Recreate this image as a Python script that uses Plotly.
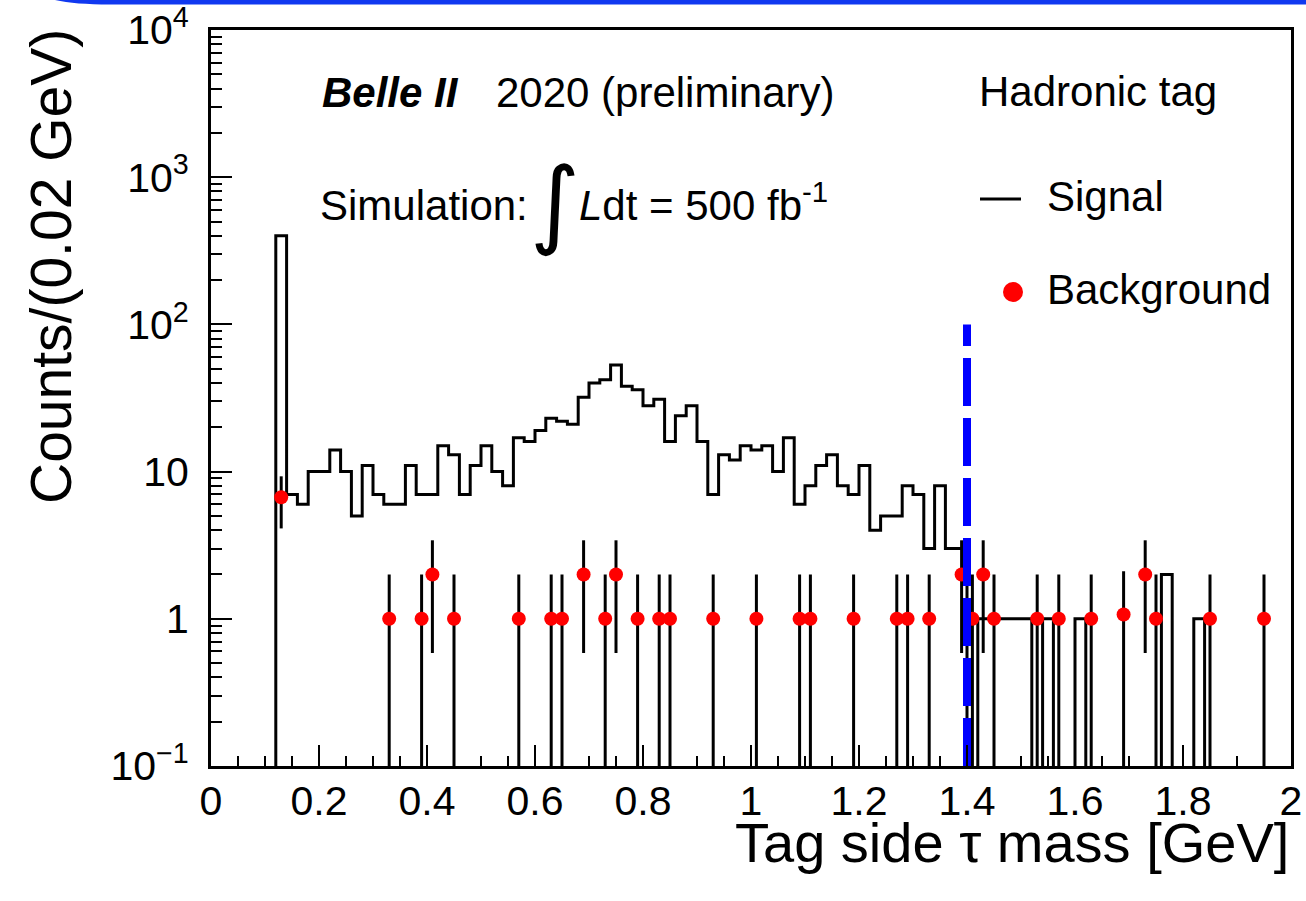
import numpy as np
import plotly.graph_objects as go

# ---------------- data ----------------
bin_width = 0.02
n_bins = 100
signal_counts = [0, 0, 0, 0, 0, 0, 400, 7, 6, 10,
                 10, 14, 10, 5, 11, 7, 6, 6, 11, 7,
                 7, 15, 13, 7, 11, 15, 10, 8, 17, 16,
                 19, 23, 22, 21, 32, 40, 42, 53, 38, 36,
                 28, 31, 16, 24, 28, 16, 7, 13, 12, 15,
                 14, 15, 10, 17, 6, 8, 11, 13, 8, 7,
                 11, 4, 5, 5, 8, 7, 3, 8, 3, 3,
                 0, 1, 1, 1, 1, 1, 0, 1, 0, 0,
                 1, 0, 0, 0, 0, 0, 0, 0, 2, 0,
                 0, 1, 0, 0, 0, 0, 0, 0, 0, 0]

bkg_mass = [0.13, 0.33, 0.39, 0.41, 0.45, 0.57, 0.63, 0.65, 0.69, 0.73,
            0.75, 0.79, 0.83, 0.85, 0.93, 1.01, 1.09, 1.11, 1.19, 1.27,
            1.29, 1.33, 1.39, 1.41, 1.43, 1.45, 1.53, 1.57, 1.63, 1.69,
            1.73, 1.75, 1.85, 1.95]
bkg_counts = [6.7, 1, 1, 2, 1, 1, 1, 1, 2, 1,
              2, 1, 1, 1, 1, 1, 1, 1, 1, 1,
              1, 1, 2, 1, 2, 1, 1, 1, 1, 1.07,
              2, 1, 1, 1]

cut_value = 1.4
cut_span = [0.1, 100]

x_tick_vals = [0, 0.2, 0.4, 0.6, 0.8, 1.0, 1.2, 1.4, 1.6, 1.8, 2.0]
x_tick_text = ["0", "0.2", "0.4", "0.6", "0.8", "1", "1.2", "1.4", "1.6", "1.8", "2"]
y_tick_vals = [0.1, 1, 10, 100, 1000, 10000]
y_tick_text = ["10<sup>\u22121</sup>", "1", "10", "10<sup>2</sup>", "10<sup>3</sup>", "10<sup>4</sup>"]

# ---------------- geometry ----------------
W, H = 1306, 901
L, R, T, B = 211, 15, 30, 135
PW = W - L - R
PH = H - T - B
FONT = "Liberation Sans, Arial, Helvetica, sans-serif"


def px(x):
    return (x - L) / PW


def py(y):
    return (H - B - y) / PH


# ---------------- traces ----------------
edges = np.round(np.arange(n_bins + 1) * bin_width, 2)
sig = np.array(signal_counts, dtype=float)
sig_plot = np.where(sig > 0, sig, 1e-3)          # empty bins drop below the axis floor
sig_y = np.append(sig_plot, sig_plot[-1])

bkg = np.array(bkg_counts, dtype=float)
bkg_err = np.sqrt(bkg)

fig = go.Figure()
fig.add_trace(go.Scatter(
    x=edges, y=sig_y, mode="lines", line=dict(shape="hv", color="black", width=3),
    name="Signal", showlegend=False, hoverinfo="skip"))
fig.add_trace(go.Scatter(
    x=bkg_mass, y=bkg, mode="markers", name="Background", showlegend=False,
    marker=dict(color="#ff0000", size=14, line=dict(width=0)),
    error_y=dict(type="data", array=bkg_err, arrayminus=bkg_err, symmetric=False,
                 color="black", thickness=3, width=0)))
fig.add_trace(go.Scatter(
    x=[cut_value, cut_value], y=cut_span, mode="lines", showlegend=False,
    line=dict(color="#0000ff", width=8, dash="48px,12px"), hoverinfo="skip"))

# ---------------- axes ----------------
x_minor = [round(v * 0.05, 2) for v in range(41) if v % 4 != 0]
y_minor = [k * 10.0 ** n for n in range(-1, 4) for k in range(2, 10)]

fig.update_xaxes(
    range=[0, 2], tickvals=x_tick_vals, ticktext=x_tick_text,
    ticks="inside", ticklen=21, tickwidth=2, tickcolor="black",
    minor=dict(tickvals=x_minor, ticks="inside", ticklen=10, tickwidth=2, tickcolor="black", showgrid=False),
    showline=True, linewidth=3, linecolor="black", mirror=True,
    showgrid=False, zeroline=False, automargin=False,
    tickfont=dict(family=FONT, size=41, color="black"), ticklabelstandoff=-3)
fig.update_yaxes(
    type="log", range=[-1, 4], tickvals=y_tick_vals, ticktext=y_tick_text,
    ticks="inside", ticklen=21, tickwidth=2, tickcolor="black",
    minor=dict(tickvals=y_minor, ticks="inside", ticklen=11, tickwidth=2, tickcolor="black", showgrid=False),
    showline=True, linewidth=3, linecolor="black", mirror=True,
    showgrid=False, zeroline=False, automargin=False,
    tickfont=dict(family=FONT, size=41, color="black"), ticklabelstandoff=11)

# ---------------- text ----------------
annotations = []


def text_at(txt, x, baseline, size, xanchor="left", family=FONT):
    annotations.append(dict(
        text=txt, x=px(x), y=py(baseline + 0.212 * size + 1), xref="paper", yref="paper",
        xanchor=xanchor, yanchor="bottom", showarrow=False,
        font=dict(family=family, size=size, color="black")))


text_at("<b><i>Belle II</i></b>", 320, 108, 42)
text_at("2020 (preliminary)", 494, 108, 42)
text_at("Hadronic tag", 977, 107, 42)
text_at("Simulation:", 318, 221, 42)
text_at("<i>L</i>dt = 500 fb<sup>-1</sup>", 577, 221, 42)
text_at("Signal", 1045, 212, 42)
text_at("Background", 1045, 305, 42)
text_at("Tag side \u03c4 mass [GeV]", 1291, 863, 56, xanchor="right")

annotations.append(dict(
    text="<i>\u222b</i>", x=px(555), y=py(203), xref="paper", yref="paper",
    xanchor="center", yanchor="middle", showarrow=False,
    font=dict(family="DejaVu Sans", size=96, color="black")))
annotations.append(dict(
    text="Counts/(0.02 GeV)", x=px(51), y=py(267), xref="paper", yref="paper",
    xanchor="center", yanchor="middle", textangle=-90, showarrow=False,
    font=dict(family=FONT, size=57, color="black")))

# ---------------- legend symbols & slide border ----------------
shapes = [
    dict(type="line", xref="paper", yref="paper", x0=px(980), x1=px(1021), y0=py(199), y1=py(199),
         line=dict(color="black", width=3)),
    dict(type="circle", xref="paper", yref="paper", x0=px(1003), x1=px(1023), y0=py(282), y1=py(302),
         fillcolor="#ff0000", line=dict(width=0)),
]
band = "M {},{} Q {},{} {},{} L {},{} L {},{} Z".format(
    px(55), py(0), px(75), py(4.5), px(110), py(4.5), px(1306), py(4.5), px(1306), py(0))
shapes.append(dict(type="path", xref="paper", yref="paper", path=band,
                   fillcolor="rgb(16,56,240)", line=dict(width=0)))

fig.update_layout(
    width=W, height=H, margin=dict(l=L, r=R, t=T, b=B, pad=0, autoexpand=False),
    paper_bgcolor="white", plot_bgcolor="white",
    showlegend=False, annotations=annotations, shapes=shapes,
    font=dict(family=FONT, color="black"))

fig.write_html("out.html")
